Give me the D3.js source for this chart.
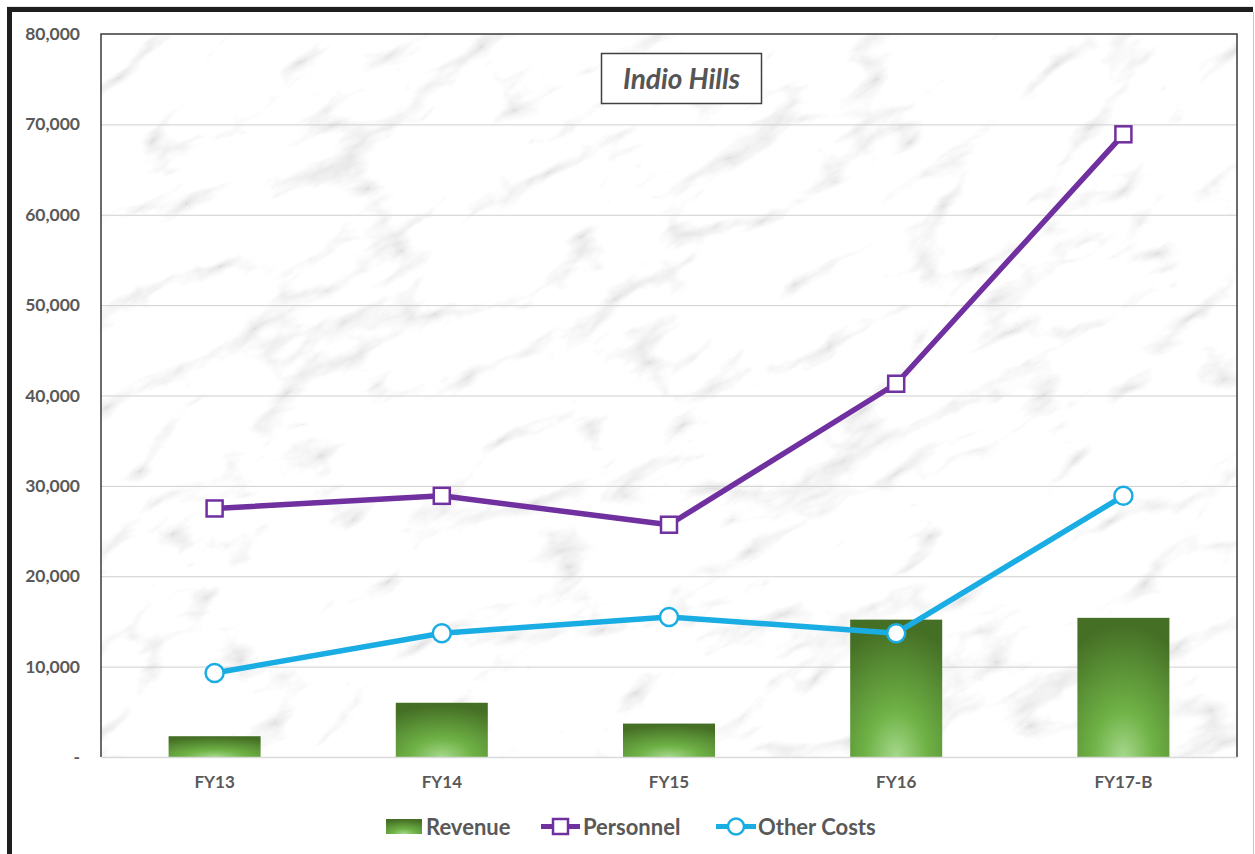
<!DOCTYPE html>
<html>
<head>
<meta charset="utf-8">
<script src="https://cdn.jsdelivr.net/npm/d3@7/dist/d3.min.js"></script>
<style>
  body { margin: 0; background: #fff; }
  text { font-family: Lato, "Open Sans", sans-serif; }
</style>
</head>
<body>
<div id="chart"></div>
<script>
// chart data
const categories = ["FY13", "FY14", "FY15", "FY16", "FY17-B"];
const revenue = [2300, 6000, 3700, 15200, 15400];
const personnel = [27500, 28900, 25700, 41300, 68900];
const otherCosts = [9300, 13700, 15500, 13700, 28900];
const yTicks = [0, 10000, 20000, 30000, 40000, 50000, 60000, 70000, 80000];
const title = "Indio Hills";

const W = 1255, H = 854;
const plot = { left: 101, top: 34, right: 1237, bottom: 757 };
const grey = "#595959";
const purple = "#7030a0";
const blue = "#1aade4";

const svg = d3.select("#chart").append("svg")
    .attr("width", W)
    .attr("height", H);

const defs = svg.append("defs");

// marble-ish texture for the plot area (thin grey veins)
const marble = defs.append("filter")
    .attr("id", "marble")
    .attr("x", 0).attr("y", 0).attr("width", 1).attr("height", 1)
    .attr("filterUnits", "objectBoundingBox");
marble.append("feTurbulence")
    .attr("type", "turbulence")
    .attr("baseFrequency", "0.006 0.014")
    .attr("numOctaves", 5)
    .attr("seed", 11)
    .attr("result", "noise");
marble.append("feColorMatrix")
    .attr("in", "noise")
    .attr("type", "matrix")
    .attr("values", "0.7 0.3 0 0 0.74  0.7 0.3 0 0 0.74  0.7 0.3 0 0 0.74  0 0 0 0 1");

const grad = defs.append("radialGradient")
    .attr("id", "barGrad")
    .attr("cx", "50%").attr("cy", "100%")
    .attr("r", "95%")
    .attr("fx", "50%").attr("fy", "100%");
grad.append("stop").attr("offset", "0%").attr("stop-color", "#a6d88c");
grad.append("stop").attr("offset", "35%").attr("stop-color", "#6fb246");
grad.append("stop").attr("offset", "100%").attr("stop-color", "#456f25");

defs.append("clipPath").attr("id", "plotClip")
    .append("rect")
    .attr("x", plot.left).attr("y", plot.top)
    .attr("width", plot.right - plot.left)
    .attr("height", plot.bottom - plot.top);

// outer frame
svg.append("rect").attr("x", 0).attr("y", 0).attr("width", W).attr("height", H).attr("fill", "#fff");
svg.append("line").attr("x1", 7).attr("x2", 1253).attr("y1", 7).attr("y2", 7).attr("stroke", "#d0d0d0");
svg.append("rect").attr("x", 7).attr("y", 7).attr("width", 1246).attr("height", 5).attr("fill", "#1e1e1e");
svg.append("rect").attr("x", 7).attr("y", 7).attr("width", 5).attr("height", H).attr("fill", "#1e1e1e");
svg.append("line").attr("x1", 1253.5).attr("x2", 1253.5).attr("y1", 12).attr("y2", H).attr("stroke", "#c8c8c8");

// scales
const x = d3.scaleBand()
    .domain(categories)
    .range([plot.left, plot.right])
    .padding(0);
const y = d3.scaleLinear()
    .domain([0, 80000])
    .range([plot.bottom, plot.top]);

// background texture
const bg = svg.append("g").attr("clip-path", "url(#plotClip)");
bg.append("rect")
    .attr("x", plot.left).attr("y", plot.top)
    .attr("width", plot.right - plot.left)
    .attr("height", plot.bottom - plot.top)
    .attr("fill", "#efefef");
bg.append("g")
    .attr("transform", "rotate(-28 669 395)")
    .append("rect")
    .attr("x", -100).attr("y", -400)
    .attr("width", 1500).attr("height", 1600)
    .attr("filter", "url(#marble)");

// gridlines
svg.append("g")
    .selectAll("line")
    .data(yTicks.slice(1, -1))
    .join("line")
    .attr("x1", plot.left).attr("x2", plot.right)
    .attr("y1", d => y(d) + 0.5).attr("y2", d => y(d) + 0.5)
    .attr("stroke", "#cfcfcf")
    .attr("stroke-width", 1);

// y axis labels
const yAxis = d3.axisLeft(y)
    .tickValues(yTicks)
    .tickSize(0)
    .tickPadding(21)
    .tickFormat(d => d === 0 ? "-" : d3.format(",")(d));
svg.append("g")
    .attr("transform", `translate(${plot.left},0)`)
    .call(yAxis)
    .call(g => g.select(".domain").remove())
    .selectAll("text")
    .attr("fill", grey)
    .attr("font-size", "17.5px")
    .attr("font-weight", "bold")
    .attr("font-family", "Lato, sans-serif");

// bars
const barW = x.bandwidth() * 0.405;
svg.append("g")
    .selectAll("rect")
    .data(revenue)
    .join("rect")
    .attr("x", (d, i) => x(categories[i]) + x.bandwidth() / 2 - barW / 2)
    .attr("y", d => y(d))
    .attr("width", barW)
    .attr("height", d => y(0) - y(d))
    .attr("fill", "url(#barGrad)");

// plot border
svg.append("path")
    .attr("d", `M${plot.left},${plot.bottom}V${plot.top}H${plot.right}V${plot.bottom}`)
    .attr("fill", "none")
    .attr("stroke", "#3a3a3a")
    .attr("stroke-width", 1.5);

// x axis
const xAxis = d3.axisBottom(x).tickSize(0).tickPadding(19);
svg.append("g")
    .attr("transform", `translate(0,${plot.bottom})`)
    .call(xAxis)
    .call(g => g.select(".domain").attr("stroke", "#d9d9d9").attr("stroke-width", 1.5))
    .selectAll("text")
    .attr("fill", grey)
    .attr("font-size", "17px")
    .attr("font-weight", "bold")
    .attr("font-family", "Lato, sans-serif");

const cx = (d, i) => x(categories[i]) + x.bandwidth() / 2;
const line = d3.line().x(cx).y(d => y(d));

// personnel line
svg.append("path")
    .datum(personnel)
    .attr("d", line)
    .attr("fill", "none")
    .attr("stroke", purple)
    .attr("stroke-width", 5.5)
    .attr("stroke-linejoin", "round");
svg.append("g")
    .selectAll("rect")
    .data(personnel)
    .join("rect")
    .attr("x", (d, i) => cx(d, i) - 8)
    .attr("y", d => y(d) - 8)
    .attr("width", 16).attr("height", 16)
    .attr("fill", "#fff")
    .attr("stroke", purple)
    .attr("stroke-width", 2.5);

// other costs line
svg.append("path")
    .datum(otherCosts)
    .attr("d", line)
    .attr("fill", "none")
    .attr("stroke", blue)
    .attr("stroke-width", 5.5)
    .attr("stroke-linejoin", "round");
svg.append("g")
    .selectAll("circle")
    .data(otherCosts)
    .join("circle")
    .attr("cx", cx)
    .attr("cy", d => y(d))
    .attr("r", 9)
    .attr("fill", "#fff")
    .attr("stroke", blue)
    .attr("stroke-width", 2.5);

// title
const tg = svg.append("g");
tg.append("rect")
    .attr("x", 601.5).attr("y", 53.5)
    .attr("width", 160).attr("height", 50)
    .attr("fill", "#fff")
    .attr("stroke", "#404040")
    .attr("stroke-width", 1.5);
tg.append("text")
    .attr("x", 681.5).attr("y", 89)
    .attr("text-anchor", "middle")
    .attr("fill", "#555")
    .attr("font-size", "28px")
    .attr("font-weight", "bold")
    .attr("font-style", "italic")
    .text(title);

// legend
const lg = svg.append("g").attr("font-size", "22px").attr("font-weight", "bold").attr("fill", grey);
lg.append("rect")
    .attr("x", 386).attr("y", 819).attr("width", 36).attr("height", 15)
    .attr("fill", "url(#barGrad)");
lg.append("text").attr("x", 426).attr("y", 834.5).text("Revenue");

lg.append("line")
    .attr("x1", 541).attr("x2", 580).attr("y1", 826.5).attr("y2", 826.5)
    .attr("stroke", purple).attr("stroke-width", 5);
lg.append("rect")
    .attr("x", 553).attr("y", 819).attr("width", 15).attr("height", 15)
    .attr("fill", "#fff").attr("stroke", purple).attr("stroke-width", 2.5);
lg.append("text").attr("x", 583).attr("y", 834.5).text("Personnel");

lg.append("line")
    .attr("x1", 716).attr("x2", 756).attr("y1", 826.5).attr("y2", 826.5)
    .attr("stroke", blue).attr("stroke-width", 5);
lg.append("circle")
    .attr("cx", 736).attr("cy", 826.5).attr("r", 8)
    .attr("fill", "#fff").attr("stroke", blue).attr("stroke-width", 2.5);
lg.append("text").attr("x", 758).attr("y", 834.5).text("Other Costs");
</script>
</body>
</html>
